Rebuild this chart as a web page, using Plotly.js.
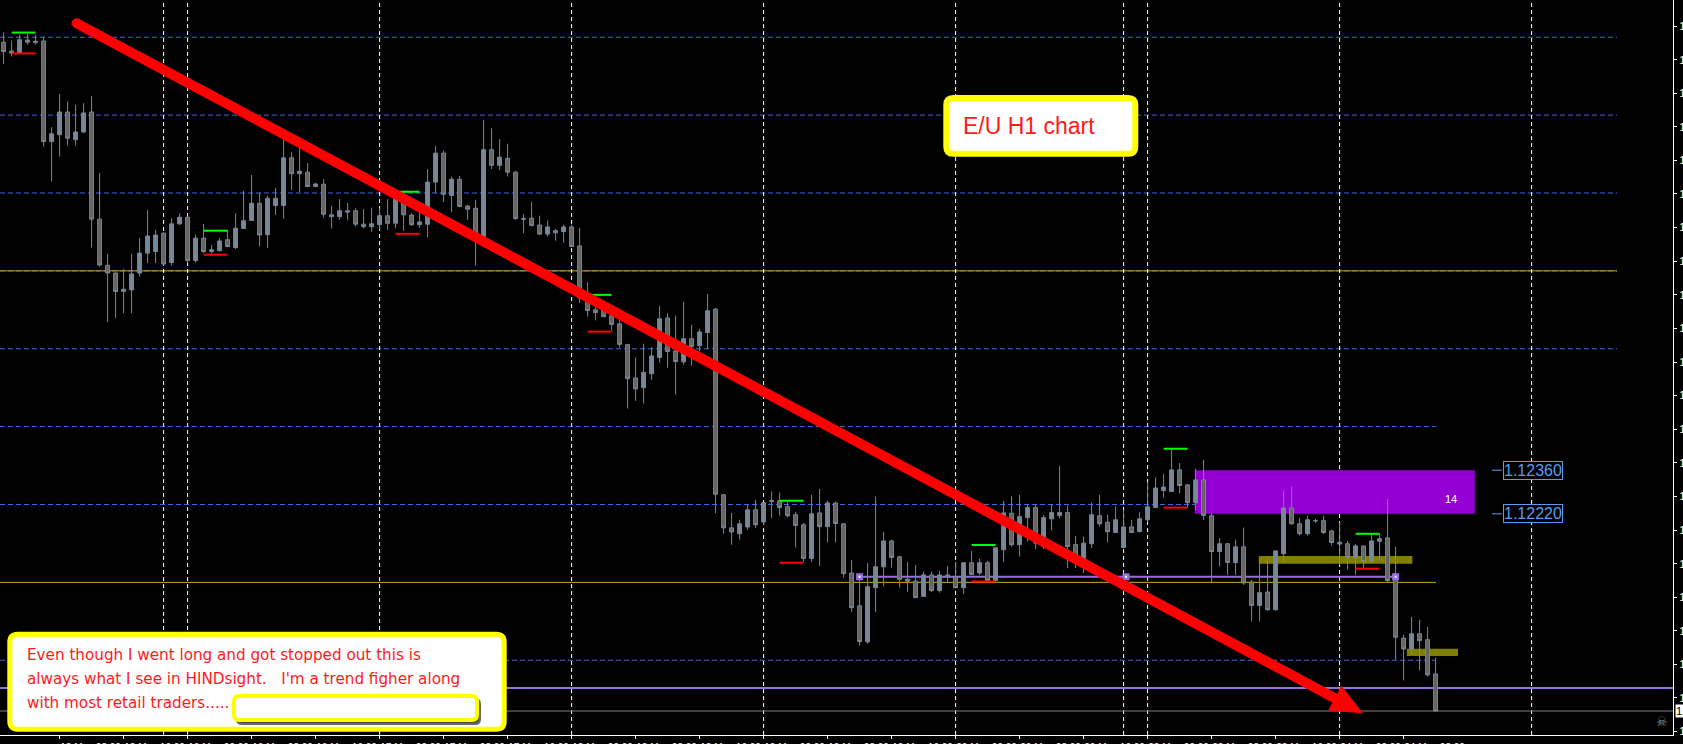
<!DOCTYPE html>
<html>
<head>
<meta charset="utf-8">
<script src="https://cdn.plot.ly/plotly-3.0.1.min.js"></script>
<style>
  html, body { margin: 0; padding: 0; background: #000; }
  #chart { width: 1683px; height: 744px; }
</style>
</head>
<body>
<div id="chart"></div>
<script>
// EUR/USD hourly bars, 13 May 01:00 to 24 May 12:00 (server time)
const open = [
  1.13734,1.13706,1.13701,1.13741,1.13733,1.13738,1.13415,1.13437,1.13510,1.13421,
  1.13446,1.13510,1.13166,1.13018,1.12993,1.12934,1.12939,1.12993,1.13057,1.13062,
  1.13121,1.13027,1.13151,1.13172,1.13033,1.13105,1.13062,1.13065,1.13100,1.13075,
  1.13136,1.13162,1.13217,1.13116,1.13210,1.13210,1.13363,1.13312,1.13317,1.13271,
  1.13278,1.13180,1.13174,1.13193,1.13193,1.13150,1.13142,1.13148,1.13177,1.13153,
  1.13231,1.13179,1.13148,1.13150,1.13285,1.13378,1.13242,1.13294,1.13208,1.13201,
  1.13110,1.13389,1.13339,1.13361,1.13317,1.13168,1.13169,1.13147,1.13118,1.13129,
  1.13126,1.13141,1.13080,1.12913,1.12875,1.12875,1.12856,1.12830,1.12763,1.12656,
  1.12625,1.12670,1.12722,1.12849,1.12743,1.12708,1.12782,1.12760,1.12802,1.12877,
  1.12281,1.12175,1.12156,1.12178,1.12233,1.12194,1.12260,1.12262,1.12243,1.12217,
  1.12185,1.12077,1.12223,1.12179,1.12255,1.12188,1.12030,1.11925,1.11809,1.11983,
  1.12050,1.12133,1.12082,1.12010,1.12004,1.11955,1.12024,1.11974,1.12024,1.12017,
  1.11983,1.12063,1.12030,1.12063,1.12006,1.12105,1.12222,1.12121,1.12208,1.12240,
  1.12115,1.12204,1.12215,1.12224,1.12121,1.12070,1.12124,1.12214,1.12193,1.12160,
  1.12112,1.12178,1.12163,1.12201,1.12240,1.12295,1.12292,1.12361,1.12313,1.12256,
  1.12329,1.12214,1.12099,1.12124,1.12064,1.12114,1.12001,1.11926,1.11969,1.11912,
  1.12092,1.12239,1.12188,1.12156,1.12198,1.12198,1.12165,1.12129,1.12124,1.12080,
  1.12117,1.12067,1.12132,1.12143,1.12027,1.11821,1.11786,1.11835,1.11816,1.11706
];
const high = [
  1.13766,1.13739,1.13758,1.13760,1.13758,1.13752,1.13461,1.13568,1.13544,1.13533,
  1.13538,1.13561,1.13314,1.13055,1.12995,1.13006,1.13055,1.13106,1.13196,1.13132,
  1.13123,1.13169,1.13185,1.13174,1.13116,1.13151,1.13083,1.13105,1.13130,1.13185,
  1.13257,1.13308,1.13251,1.13241,1.13266,1.13421,1.13381,1.13395,1.13346,1.13283,
  1.13294,1.13209,1.13230,1.13218,1.13201,1.13198,1.13203,1.13201,1.13230,1.13239,
  1.13244,1.13185,1.13190,1.13327,1.13401,1.13386,1.13303,1.13305,1.13212,1.13228,
  1.13485,1.13458,1.13423,1.13408,1.13321,1.13182,1.13222,1.13177,1.13162,1.13135,
  1.13148,1.13148,1.13138,1.12965,1.12891,1.12885,1.12865,1.12843,1.12766,1.12722,
  1.12766,1.12755,1.12888,1.12864,1.12856,1.12901,1.12827,1.12814,1.12926,1.12881,
  1.12284,1.12223,1.12201,1.12249,1.12265,1.12256,1.12292,1.12288,1.12256,1.12226,
  1.12191,1.12281,1.12300,1.12262,1.12259,1.12188,1.12072,1.12021,1.12062,1.12275,
  1.12162,1.12137,1.12085,1.12066,1.12056,1.12035,1.12035,1.12037,1.12053,1.12066,
  1.12063,1.12101,1.12076,1.12069,1.12111,1.12262,1.12276,1.12281,1.12251,1.12251,
  1.12217,1.12251,1.12374,1.12246,1.12149,1.12147,1.12256,1.12281,1.12217,1.12244,
  1.12233,1.12201,1.12225,1.12321,1.12337,1.12348,1.12428,1.12383,1.12313,1.12365,
  1.12393,1.12222,1.12142,1.12126,1.12137,1.12176,1.12008,1.12072,1.12077,1.12101,
  1.12294,1.12307,1.12206,1.12214,1.12204,1.12214,1.12169,1.12192,1.12133,1.12124,
  1.12117,1.12153,1.12155,1.12268,1.12114,1.11832,1.11889,1.11880,1.11857,1.11758
];
const low = [
  1.13664,1.13688,1.13699,1.13726,1.13726,1.13399,1.13287,1.13367,1.13402,1.13402,
  1.13442,1.13075,1.13014,1.12836,1.12848,1.12864,1.12864,1.12982,1.13025,1.13025,
  1.13017,1.13017,1.13148,1.13025,1.13027,1.13057,1.13055,1.13062,1.13076,1.13070,
  1.13134,1.13161,1.13078,1.13073,1.13180,1.13167,1.13260,1.13253,1.13269,1.13269,
  1.13171,1.13136,1.13164,1.13162,1.13142,1.13136,1.13126,1.13132,1.13132,1.13137,
  1.13129,1.13145,1.13138,1.13108,1.13250,1.13221,1.13189,1.13204,1.13164,1.13017,
  1.13108,1.13327,1.13324,1.13303,1.13164,1.13121,1.13143,1.13116,1.13110,1.13097,
  1.13090,1.13077,1.12897,1.12853,1.12841,1.12852,1.12808,1.12754,1.12558,1.12583,
  1.12574,1.12650,1.12706,1.12689,1.12603,1.12698,1.12696,1.12742,1.12749,1.12222,
  1.12156,1.12121,1.12137,1.12169,1.12175,1.12185,1.12206,1.12214,1.12208,1.12112,
  1.12066,1.12066,1.12053,1.12128,1.12128,1.12016,1.11905,1.11797,1.11803,1.11905,
  1.11987,1.12047,1.11983,1.11970,1.11950,1.11954,1.11969,1.11967,1.12000,1.11982,
  1.11962,1.12024,1.12024,1.12005,1.12003,1.12066,1.12115,1.12083,1.12131,1.12107,
  1.12107,1.12166,1.12206,1.12046,1.12046,1.12030,1.12110,1.12179,1.12128,1.12159,
  1.12111,1.12158,1.12160,1.12193,1.12239,1.12272,1.12291,1.12286,1.12240,1.12233,
  1.12201,1.11997,1.12051,1.12024,1.12024,1.11992,1.11874,1.11874,1.11910,1.11910,
  1.12064,1.12186,1.12150,1.12150,1.12191,1.12155,1.12118,1.12055,1.12041,1.12024,
  1.12046,1.12066,1.12070,1.11998,1.11751,1.11685,1.11770,1.11717,1.11698,1.11586
];
const close = [
  1.13704,1.13699,1.13742,1.13734,1.13737,1.13415,1.13440,1.13510,1.13426,1.13446,
  1.13507,1.13166,1.13019,1.12993,1.12934,1.12941,1.12990,1.13057,1.13112,1.13115,
  1.13022,1.13151,1.13172,1.13033,1.13105,1.13062,1.13068,1.13096,1.13078,1.13137,
  1.13161,1.13217,1.13115,1.13233,1.13233,1.13363,1.13312,1.13320,1.13271,1.13279,
  1.13182,1.13174,1.13193,1.13189,1.13150,1.13142,1.13151,1.13177,1.13153,1.13231,
  1.13180,1.13148,1.13157,1.13285,1.13378,1.13246,1.13294,1.13207,1.13198,1.13121,
  1.13389,1.13339,1.13365,1.13317,1.13168,1.13166,1.13146,1.13118,1.13141,1.13122,
  1.13141,1.13078,1.12913,1.12873,1.12866,1.12853,1.12828,1.12764,1.12654,1.12621,
  1.12674,1.12727,1.12846,1.12741,1.12709,1.12782,1.12757,1.12804,1.12872,1.12283,
  1.12175,1.12162,1.12188,1.12233,1.12185,1.12256,1.12262,1.12240,1.12214,1.12183,
  1.12077,1.12220,1.12179,1.12255,1.12189,1.12028,1.11919,1.11810,1.11986,1.12050,
  1.12133,1.12080,1.12010,1.12004,1.11951,1.12024,1.11974,1.12024,1.12017,1.11983,
  1.12063,1.12025,1.12063,1.12006,1.12111,1.12223,1.12121,1.12211,1.12240,1.12126,
  1.12208,1.12224,1.12224,1.12115,1.12064,1.12126,1.12217,1.12188,1.12163,1.12201,
  1.12178,1.12160,1.12204,1.12243,1.12303,1.12306,1.12361,1.12311,1.12256,1.12329,
  1.12215,1.12099,1.12124,1.12064,1.12114,1.11998,1.11926,1.11967,1.11912,1.12101,
  1.12239,1.12188,1.12156,1.12201,1.12198,1.12160,1.12128,1.12123,1.12080,1.12117,
  1.12067,1.12133,1.12140,1.12006,1.11824,1.11786,1.11835,1.11813,1.11703,1.11587
];
const barIndex = open.map((_, i) => i);

// time-scale labels every 8 bars (bar index -> text)
const timeTickBars = [-1, 7, 15, 23, 31, 39, 47, 55, 63, 71, 79, 87, 95, 103, 111, 119, 127, 135, 143, 151, 159, 167, 175];
const timeTickText = [
  "13 May 00:00","13 May 08:00","13 May 16:00","16 May 00:00","16 May 08:00","16 May 16:00",
  "17 May 00:00","17 May 08:00","17 May 16:00","18 May 00:00","18 May 08:00","18 May 16:00",
  "19 May 00:00","19 May 08:00","19 May 16:00","20 May 00:00","20 May 08:00","20 May 16:00",
  "23 May 00:00","23 May 08:00","23 May 16:00","24 May 00:00","24 May 08:00"
];
// price scale labels
const priceTicks = [1.13786,1.13678,1.13570,1.13463,1.13355,1.13247,1.13139,1.13031,1.12923,1.12815,1.12707,
                    1.12600,1.12492,1.12384,1.12276,1.12168,1.12060,1.11952,1.11845,1.11737,1.11629,1.11521];

// drawn objects
const periodSeparators = [20, 23, 47, 71, 95, 119, 140, 143, 167, 191];
const quarterLevelsLong = [1.1375, 1.1350, 1.1325, 1.1300, 1.1275];
const quarterLevelsShort = [1.1250, 1.1225, 1.1175];
const orangeLevels = [1.1300, 1.1200];
const supplyZone = {from: 148.9, to: 183.9, low: 1.1222, high: 1.1236, count: "14"};
const zoneLabels = [1.12360, 1.12220];
const stopLevel = 1.11661;
const entryLine = {from: 107, to: 174, level: 1.12018};
const bidPrice = 1.11587;
const olivePanels = [
  {from: 156.9, to: 176.1, low: 1.12060, high: 1.12085},
  {from: 175.4, to: 181.8, low: 1.11764, high: 1.11787}
];
const rangeMarkers = [
  {from: 1, to: 4, top: 1.13765, bottom: 1.13698},
  {from: 25, to: 28, top: 1.13129, bottom: 1.13052},
  {from: 49, to: 52, top: 1.13254, bottom: 1.13119},
  {from: 73, to: 76, top: 1.12923, bottom: 1.12805},
  {from: 97, to: 100, top: 1.12262, bottom: 1.12063},
  {from: 121, to: 124, top: 1.12120, bottom: 1.12003},
  {from: 145, to: 148, top: 1.12429, bottom: 1.12240},
  {from: 169, to: 172, top: 1.12156, bottom: 1.12044}
];

// plot-area geometry in pixels
const W = 1673, H = 735;
const px = x => x / W;
const py = y => 1 - y / H;

function roundRectPath(x0, y0, x1, y1, r) {
  const P = (x, y) => px(x) + ',' + py(y);
  return 'M' + P(x0 + r, y0) + ' L' + P(x1 - r, y0) + ' Q' + P(x1, y0) + ' ' + P(x1, y0 + r) +
         ' L' + P(x1, y1 - r) + ' Q' + P(x1, y1) + ' ' + P(x1 - r, y1) +
         ' L' + P(x0 + r, y1) + ' Q' + P(x0, y1) + ' ' + P(x0, y1 - r) +
         ' L' + P(x0, y0 + r) + ' Q' + P(x0, y0) + ' ' + P(x0 + r, y0) + ' Z';
}

const shapes = [];

// zone and panels behind the bars
shapes.push({type: 'rect', layer: 'below', xref: 'x', yref: 'y',
  x0: supplyZone.from, x1: supplyZone.to, y0: supplyZone.low, y1: supplyZone.high,
  fillcolor: '#9400d3', line: {width: 0}});
olivePanels.forEach(p => shapes.push({type: 'rect', layer: 'below', xref: 'x', yref: 'y',
  x0: p.from, x1: p.to, y0: p.low, y1: p.high, fillcolor: '#808000', line: {width: 0}}));

// quarter levels
quarterLevelsLong.forEach(v => shapes.push({type: 'line', layer: 'below', xref: 'paper', yref: 'y',
  x0: 0, x1: px(1617), y0: v, y1: v, line: {color: '#4169e1', width: 1, dash: '5px,3px'}}));
quarterLevelsShort.forEach(v => shapes.push({type: 'line', layer: 'below', xref: 'paper', yref: 'y',
  x0: 0, x1: px(1436), y0: v, y1: v, line: {color: '#4169e1', width: 1, dash: '5px,3px'}}));
orangeLevels.forEach((v, k) => shapes.push({type: 'line', layer: 'below', xref: 'paper', yref: 'y',
  x0: 0, x1: px(k === 0 ? 1617 : 1436), y0: v, y1: v, line: {color: '#daa520', width: 1}}));

// period separators
periodSeparators.forEach(b => shapes.push({type: 'line', layer: 'below', xref: 'x', yref: 'paper',
  x0: b, x1: b, y0: 0, y1: 1, line: {color: '#ffffff', width: 1, dash: '4px,3px'}}));

// stop level, entry line, bid line
shapes.push({type: 'line', layer: 'below', xref: 'paper', yref: 'y', x0: 0, x1: 1,
  y0: stopLevel, y1: stopLevel, line: {color: '#9370db', width: 2}});
shapes.push({type: 'line', layer: 'below', xref: 'x', yref: 'y', x0: entryLine.from, x1: entryLine.to,
  y0: entryLine.level, y1: entryLine.level, line: {color: '#9370db', width: 2}});
shapes.push({type: 'line', layer: 'below', xref: 'paper', yref: 'y', x0: 0, x1: 1,
  y0: bidPrice, y1: bidPrice, line: {color: '#808080', width: 1}});

// short range markers
rangeMarkers.forEach(m => {
  shapes.push({type: 'line', xref: 'x', yref: 'y', x0: m.from, x1: m.to, y0: m.top, y1: m.top,
    line: {color: '#00ff00', width: 2}});
  shapes.push({type: 'line', xref: 'x', yref: 'y', x0: m.from, x1: m.to, y0: m.bottom, y1: m.bottom,
    line: {color: '#ff0000', width: 2}});
});

// end markers of the entry line
[entryLine.from, 140.3, entryLine.to].forEach(b => {
  shapes.push({type: 'rect', xref: 'x', yref: 'y', xsizemode: 'pixel', ysizemode: 'pixel',
    xanchor: b, yanchor: entryLine.level, x0: -3.5, x1: 3.5, y0: -3.5, y1: 3.5,
    fillcolor: '#9370db', line: {width: 0}});
  shapes.push({type: 'rect', xref: 'x', yref: 'y', xsizemode: 'pixel', ysizemode: 'pixel',
    xanchor: b, yanchor: entryLine.level, x0: -1, x1: 1, y0: -1, y1: 1,
    fillcolor: '#ffffff', line: {width: 0}});
});

// leader ticks of the zone price labels
zoneLabels.forEach(v => shapes.push({type: 'line', xref: 'paper', yref: 'y', x0: px(1492), x1: px(1502),
  y0: v, y1: v, line: {color: '#5b9bf0', width: 1}}));

// hand-drawn trend arrow
const A = {x: 76.8, y: 23.3}, T = {x: 1363, y: 713.3};
const len = Math.hypot(T.x - A.x, T.y - A.y);
const ux = (T.x - A.x) / len, uy = (T.y - A.y) / len;
const base = {x: T.x - 32 * ux, y: T.y - 32 * uy};
shapes.push({type: 'line', xref: 'paper', yref: 'paper', x0: px(A.x), y0: py(A.y),
  x1: px(base.x + 4 * ux), y1: py(base.y + 4 * uy), line: {color: '#ff0000', width: 10}});
shapes.push({type: 'circle', xref: 'paper', yref: 'paper', x0: px(A.x - 5), x1: px(A.x + 5),
  y0: py(A.y - 5), y1: py(A.y + 5), fillcolor: '#ff0000', line: {width: 0}});
shapes.push({type: 'path', xref: 'paper', yref: 'paper', fillcolor: '#ff0000', line: {width: 0},
  path: 'M' + px(T.x) + ',' + py(T.y) +
        ' L' + px(base.x - 14 * uy) + ',' + py(base.y + 14 * ux) +
        ' L' + px(base.x + 14 * uy) + ',' + py(base.y - 14 * ux) + ' Z'});

// note boxes
shapes.push({type: 'path', xref: 'paper', yref: 'paper', path: roundRectPath(946.3, 98, 1135.3, 153.7, 7),
  fillcolor: '#ffffff', line: {color: '#ffff00', width: 6}});
shapes.push({type: 'path', xref: 'paper', yref: 'paper', path: roundRectPath(9.8, 634.2, 504.2, 729.2, 8),
  fillcolor: '#ffffff', line: {color: '#ffff00', width: 5}});
shapes.push({type: 'path', xref: 'paper', yref: 'paper', path: roundRectPath(237, 699, 480, 724, 5),
  fillcolor: '#4a4a4a', line: {color: '#6a6a6a', width: 2}});
shapes.push({type: 'path', xref: 'paper', yref: 'paper', path: roundRectPath(234, 696, 477, 720, 5),
  fillcolor: '#ffffff', line: {color: '#ffff00', width: 4}});

const noteFont = {family: 'DejaVu Sans, Verdana, sans-serif', size: 15.2, color: '#ff1a1a'};
const annotations = [
  {xref: 'paper', yref: 'paper', x: px(961), y: py(126), xanchor: 'left', yanchor: 'middle',
   text: 'E/U H1 chart', showarrow: false,
   font: {family: 'Liberation Sans, Arial, sans-serif', size: 23, color: '#ff1a1a'}},
  {xref: 'paper', yref: 'paper', x: px(25), y: py(655), xanchor: 'left', yanchor: 'middle',
   text: 'Even though I went long and got stopped out this is', showarrow: false, font: noteFont},
  {xref: 'paper', yref: 'paper', x: px(25), y: py(679), xanchor: 'left', yanchor: 'middle',
   text: 'always what I see in HINDsight.&nbsp;&nbsp; I\'m a trend figher along', showarrow: false, font: noteFont},
  {xref: 'paper', yref: 'paper', x: px(25), y: py(703), xanchor: 'left', yanchor: 'middle',
   text: 'with most retail traders.....', showarrow: false, font: noteFont},
  {xref: 'x', yref: 'y', x: 180.9, y: 1.12268, xanchor: 'center', text: supplyZone.count, showarrow: false,
   font: {family: 'Liberation Sans, Arial, sans-serif', size: 11, color: '#ffffff'}},
  {xref: 'paper', yref: 'paper', x: px(1662), y: py(721), xanchor: 'center', yanchor: 'middle',
   text: '\u2620', showarrow: false,
   font: {family: 'DejaVu Sans', size: 13, color: '#8a8a8a'}},
  {xref: 'paper', yref: 'y', x: 1, xanchor: 'left', xshift: 2, y: bidPrice, text: bidPrice.toFixed(5),
   showarrow: false, bgcolor: '#ffffff', borderpad: 0,
   font: {family: 'Liberation Sans, Arial, sans-serif', size: 11, color: '#000000'}}
];
zoneLabels.forEach(v => annotations.push({xref: 'paper', yref: 'y', x: px(1532.5), xanchor: 'center',
  y: v, yanchor: 'middle',
  text: v.toFixed(5), showarrow: false, bgcolor: '#000000', bordercolor: '#5b9bf0', borderwidth: 1, borderpad: 0,
  font: {family: 'Liberation Sans, Arial, sans-serif', size: 16, color: '#5b9bf0'}}));

const trace = {
  type: 'candlestick',
  x: barIndex, open: open, high: high, low: low, close: close,
  increasing: {line: {color: '#778899', width: 1}, fillcolor: '#778899'},
  decreasing: {line: {color: '#778899', width: 1}, fillcolor: '#646464'},
  whiskerwidth: 0,
  hoverinfo: 'skip'
};

const layout = {
  width: 1683, height: 744,
  margin: {l: 0, r: 10, t: 0, b: 9, pad: 0},
  paper_bgcolor: '#000000', plot_bgcolor: '#000000',
  showlegend: false,
  xaxis: {
    range: [-0.45, 208.675], showgrid: false, zeroline: false, fixedrange: true,
    rangeslider: {visible: false},
    showline: true, linecolor: '#ffffff', linewidth: 1, mirror: false,
    tickmode: 'array', tickvals: timeTickBars, ticktext: timeTickText,
    ticks: 'outside', ticklen: 3, tickcolor: '#ffffff', tickwidth: 1,
    ticklabelshift: 31, ticklabelstandoff: 0,
    tickfont: {family: 'Liberation Sans, Arial, sans-serif', size: 10, color: '#ffffff'}
  },
  yaxis: {
    range: [1.1151003, 1.1386958], side: 'right', showgrid: false, zeroline: false, fixedrange: true,
    showline: true, linecolor: '#ffffff', linewidth: 1,
    tickmode: 'array', tickvals: priceTicks, ticktext: priceTicks.map(v => v.toFixed(5)),
    ticks: 'outside', ticklen: 3, tickcolor: '#ffffff', tickwidth: 1,
    tickfont: {family: 'Liberation Sans, Arial, sans-serif', size: 11, color: '#ffffff'}
  },
  shapes: shapes,
  annotations: annotations
};

Plotly.newPlot('chart', [trace], layout, {staticPlot: true, displayModeBar: false});
</script>
</body>
</html>
